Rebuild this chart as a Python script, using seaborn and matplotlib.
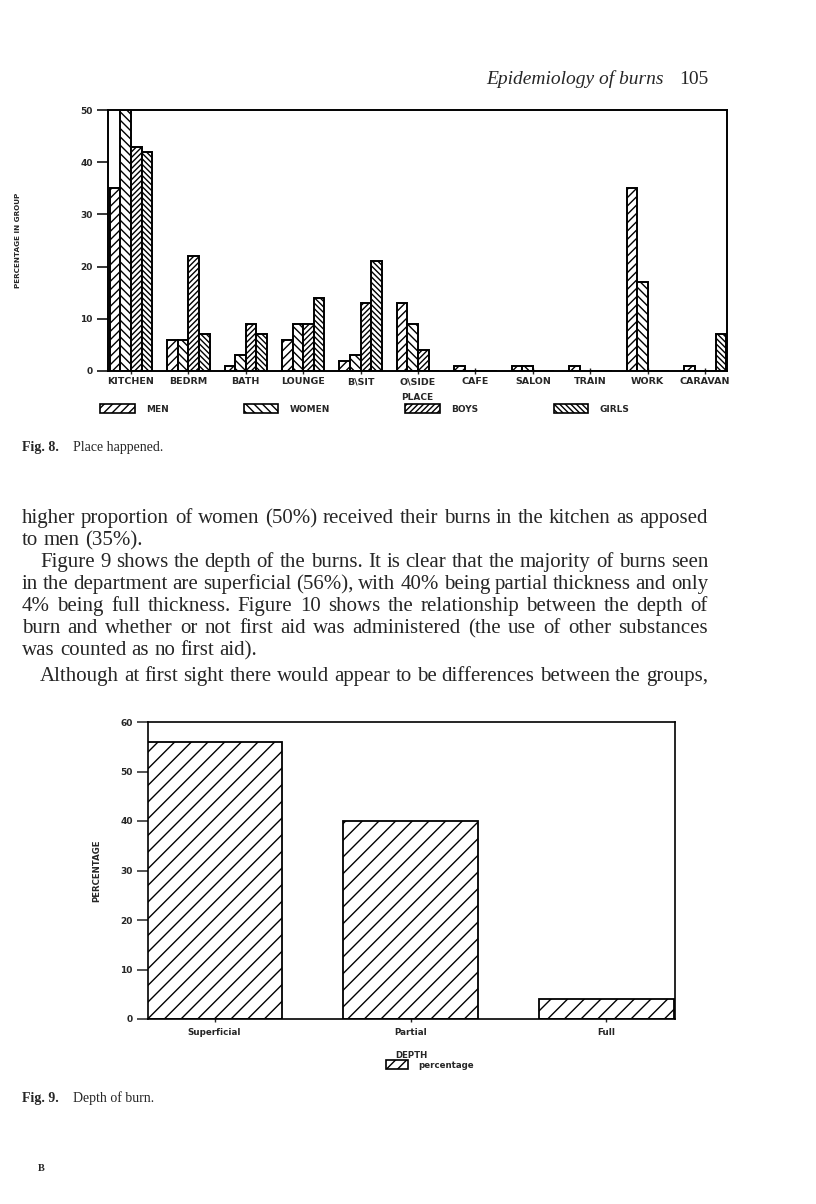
import matplotlib
matplotlib.use('Agg')
import matplotlib.pyplot as plt
from matplotlib.patches import Patch
import seaborn as sns
import pandas as pd

# Рис. 8 - где произошёл ожог (процент в группе)
places = ['KITCHEN', 'BEDRM', 'BATH', 'LOUNGE', 'B\\SIT', 'O\\SIDE',
          'CAFE', 'SALON', 'TRAIN', 'WORK', 'CARAVAN']
men = [35, 6, 1, 6, 2, 13, 1, 1, 1, 35, 1]
women = [50, 6, 3, 9, 3, 9, 0, 1, 0, 17, 0]
boys = [43, 22, 9, 9, 13, 4, 0, 0, 0, 0, 0]
girls = [42, 7, 7, 14, 21, 0, 0, 0, 0, 0, 7]
groups = ['MEN', 'WOMEN', 'BOYS', 'GIRLS']
hatches = ['////', '\\' * 4, '//////', '\\' * 6]

# Рис. 9 - глубина ожога
depth = ['Superficial', 'Partial', 'Full']
depth_pct = [56, 40, 4]

W, H = 816, 1204
SERIF = 'Liberation Serif'
PLOT = 'DejaVu Sans'

sns.set_theme(style='ticks')
plt.rcParams['font.family'] = [PLOT]
plt.rcParams['hatch.linewidth'] = 1.0
plt.rcParams['hatch.color'] = 'black'

fig = plt.figure(figsize=(W / 100, H / 100), dpi=100)
fig.patch.set_facecolor('white')


def fx(px):
    return px / W


def fy(py):
    return 1 - py / H


# ---------- верхний график ----------
df1 = pd.DataFrame({
    'place': places * 4,
    'pct': men + women + boys + girls,
    'group': sum([[g] * len(places) for g in groups], []),
})
ax1 = fig.add_axes([fx(108), fy(371), fx(727) - fx(108), fy(110) - fy(371)])
sns.barplot(data=df1, x='place', y='pct', hue='group', hue_order=groups,
            palette=['white'] * 4, edgecolor='black', linewidth=1.4,
            width=0.74, saturation=1, legend=False, ax=ax1)
for cont, h in zip(ax1.containers, hatches):
    for bar in cont:
        bar.set_hatch(h)
ax1.set_xlim(-0.40, 10.38)
ax1.set_ylim(0, 50)
ax1.set_yticks([0, 10, 20, 30, 40, 50])
for s in ax1.spines.values():
    s.set_linewidth(1.4)
    s.set_color('black')
ax1.tick_params(axis='y', direction='out', length=8, width=1.3,
                labelsize=6.5, pad=3)
ax1.tick_params(axis='x', direction='inout', length=5, width=1.0,
                labelsize=6.8, pad=2)
for lab in ax1.get_xticklabels() + ax1.get_yticklabels():
    lab.set_fontweight('bold')
ax1.set_xlabel('PLACE', fontsize=6.5, fontweight='bold', labelpad=5)
ax1.set_ylabel('')
fig.text(fx(18), fy(240), 'PERCENTAGE IN GROUP', rotation=90, ha='center',
         va='center', fontsize=5.2, fontweight='bold')
handles = [Patch(facecolor='white', edgecolor='black', hatch=h, linewidth=1.2)
           for h in hatches]
ax1.legend(handles, groups, ncol=4, frameon=False, loc='center',
           bbox_to_anchor=(0.415, -0.145), prop={'size': 6.5, 'weight': 'bold'},
           handlelength=3.8, handleheight=1.1, handletextpad=1.3,
           columnspacing=8.3)

# ---------- нижний график ----------
ax2 = fig.add_axes([fx(148), fy(1019), fx(675) - fx(148), fy(722) - fy(1019)])
sns.barplot(x=depth, y=depth_pct, color='white', edgecolor='black',
            linewidth=1.3, width=0.69, saturation=1, ax=ax2)
for bar in ax2.patches:
    bar.set_hatch('//')
ax2.set_xlim(-0.34, 2.35)
ax2.set_ylim(0, 60)
ax2.set_yticks([0, 10, 20, 30, 40, 50, 60])
for s in ax2.spines.values():
    s.set_linewidth(1.2)
    s.set_color('black')
ax2.tick_params(axis='y', direction='out', length=8, width=1.1,
                labelsize=6.5, pad=3)
ax2.tick_params(axis='x', direction='inout', length=5, width=1.0,
                labelsize=6.3, pad=4)
for lab in ax2.get_xticklabels() + ax2.get_yticklabels():
    lab.set_fontweight('bold')
ax2.set_xlabel('DEPTH', fontsize=6.2, fontweight='bold', labelpad=10)
ax2.set_ylabel('PERCENTAGE', fontsize=6.2, fontweight='bold', labelpad=14)
ax2.legend([Patch(facecolor='white', edgecolor='black', hatch='///', linewidth=1.2)],
           ['percentage'], frameon=False, loc='center',
           bbox_to_anchor=(0.535, -0.155), prop={'size': 6.2, 'weight': 'bold'},
           handlelength=2.6, handleheight=1.2, handletextpad=1.2)

# ---------- текст страницы ----------
fig.text(fx(708), fy(84), '105', ha='right', va='baseline',
         family=SERIF, fontsize=14)
fig.text(fx(664), fy(84), 'Epidemiology of burns', ha='right', va='baseline',
         family=SERIF, fontsize=14, style='italic')

fig.text(fx(22), fy(451), 'Fig. 8.', family=SERIF, fontsize=10,
         fontweight='bold', va='baseline')
fig.text(fx(73), fy(451), 'Place happened.', family=SERIF, fontsize=10,
         va='baseline')
fig.text(fx(22), fy(1102), 'Fig. 9.', family=SERIF, fontsize=10,
         fontweight='bold', va='baseline')
fig.text(fx(73), fy(1102), 'Depth of burn.', family=SERIF, fontsize=10,
         va='baseline')
fig.text(fx(38), fy(1171), 'B', family=SERIF, fontsize=7.5,
         fontweight='bold', va='baseline')

lines = [
    ('higher proportion of women (50%) received their burns in the kitchen as apposed', 22, True, 523),
    ('to men (35%).', 22, False, 545),
    ('Figure 9 shows the depth of the burns. It is clear that the majority of burns seen', 40, True, 567),
    ('in the department are superficial (56%), with 40% being partial thickness and only', 22, True, 589),
    ('4% being full thickness. Figure 10 shows the relationship between the depth of', 22, True, 611),
    ('burn and whether or not first aid was administered (the use of other substances', 22, True, 633),
    ('was counted as no first aid).', 22, False, 655),
    ('Although at first sight there would appear to be differences between the groups,', 40, True, 681),
]
RIGHT = 708
SIZE = 15
renderer = fig.canvas.get_renderer()
for text, x0, just, base in lines:
    words = text.split(' ')
    arts = [fig.text(0, fy(base), w, family=SERIF, fontsize=SIZE,
                     va='baseline') for w in words]
    widths = [a.get_window_extent(renderer).width for a in arts]
    space = 0.25 * SIZE * 100 / 72
    if just and len(words) > 1:
        space = (RIGHT - x0 - sum(widths)) / (len(words) - 1)
    x = x0
    for a, w in zip(arts, widths):
        a.set_x(fx(x))
        x += w + space

fig.savefig('out.png', dpi=100, facecolor='white')
